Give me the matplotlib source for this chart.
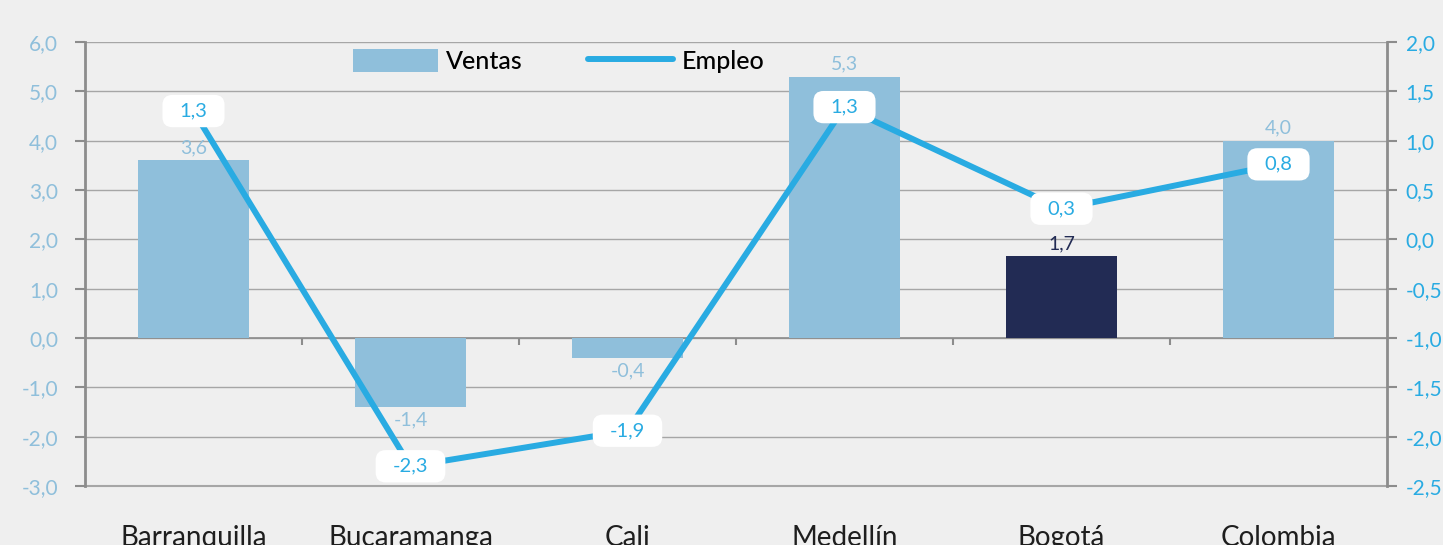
import matplotlib
matplotlib.use("Agg")
import matplotlib.pyplot as plt
from matplotlib.patches import BoxStyle
import numpy as np

categories = ["Barranquilla", "Bucaramanga", "Cali", "Medellín", "Bogotá", "Colombia"]
ventas = [3.6, -1.4, -0.4, 5.3, 1.66, 4.0]
empleo = [1.3, -2.3, -1.94, 1.34, 0.31, 0.76]
left_ticks = [-3, -2, -1, 0, 1, 2, 3, 4, 5, 6]
right_ticks = [-2.5, -2.0, -1.5, -1.0, -0.5, 0.0, 0.5, 1.0, 1.5, 2.0]

plt.rcParams['font.family'] = ['Lato', 'DejaVu Sans']

BG = "#efefef"
BAR = "#8fbfdb"
HIGHLIGHT = "#222b54"
LINE = "#29abe2"
GRID = "#a6a6a6"
AXIS = "#8c8c8c"


def fmt(v):
    return f"{v:.1f}".replace(".", ",")


def label_box(x0, y0, width, height, mutation_size):
    # rounded white box with wider horizontal padding
    px = mutation_size * 0.85
    py = mutation_size * 0.38
    return BoxStyle.Round(pad=0, rounding_size=0.5)(
        x0 - px, y0 - py, width + 2 * px, height + 2 * py, mutation_size)


fig = plt.figure(figsize=(14.43, 5.45), dpi=100, facecolor=BG)
ax = fig.add_axes([85/1443, 1-486/545, (1387-85)/1443, (486-42)/545])
ax.set_facecolor(BG)

x = np.arange(len(categories))
colors = [HIGHLIGHT if c == "Bogotá" else BAR for c in categories]
bars = ax.bar(x, ventas, width=0.51, color=colors, zorder=2, label="Ventas")

ax.set_ylim(-3, 6)
ax.set_xlim(-0.5, len(categories) - 0.5)
ax.set_yticks(left_ticks)
ax.set_yticklabels([fmt(t) for t in left_ticks], color=BAR, fontsize=15)
ax.yaxis.grid(True, color=GRID, linewidth=1.0, zorder=0)
ax.set_axisbelow(True)
ax.tick_params(axis='y', length=7.5, width=1.5, color=AXIS, pad=12)
ax.axhline(-3, color=GRID, linewidth=1.5, clip_on=False, zorder=0)

for s in ["top", "bottom"]:
    ax.spines[s].set_visible(False)
ax.spines["left"].set_color(AXIS)
ax.spines["left"].set_linewidth(2)
ax.spines["right"].set_visible(False)

# category labels below plot
ax.set_xticks(x)
ax.set_xticklabels(categories, fontsize=20, color="#1e1e1e")
ax.tick_params(axis='x', length=0, pad=28)

# zero line and category boundary ticks
ax.axhline(0, color=AXIS, linewidth=1.2, zorder=1)
bounds = np.arange(len(categories) - 1) + 0.5
ax.vlines(bounds, -0.15, 0, color=AXIS, linewidth=1.5, zorder=1)

# bar labels
for xi, v, c in zip(x, ventas, categories):
    col = HIGHLIGHT if c == "Bogotá" else BAR
    if v >= 0:
        ax.annotate(fmt(v), (xi, v), xytext=(0, 3), textcoords="offset points",
                    ha="center", va="bottom", color=col, fontsize=14, zorder=3)
    else:
        ax.annotate(fmt(v), (xi, v), xytext=(0, -3), textcoords="offset points",
                    ha="center", va="top", color=col, fontsize=14, zorder=3)

# secondary axis
ax2 = ax.twinx()
ax2.set_ylim(-2.5, 2.0)
ax2.set_yticks(right_ticks)
ax2.set_yticklabels([fmt(t) for t in right_ticks], color=LINE, fontsize=15)
ax2.tick_params(axis='y', length=7.5, width=1.5, color=AXIS, pad=6)
for s in ["top", "bottom", "left"]:
    ax2.spines[s].set_visible(False)
ax2.spines["right"].set_color(AXIS)
ax2.spines["right"].set_linewidth(2)

line, = ax2.plot(x, empleo, color=LINE, linewidth=4.3, solid_capstyle="round", zorder=4, label="Empleo")
for xi, v in zip(x, empleo):
    ax2.text(xi, v, fmt(v), ha="center", va="center",
             color=LINE, fontsize=14.5, zorder=5,
             bbox=dict(boxstyle=label_box, facecolor="white", edgecolor="none"))

leg = ax.legend([bars, line], ["Ventas", "Empleo"], loc="center",
                bbox_to_anchor=(0.3637, 0.957), ncol=2, frameon=False, fontsize=18,
                handlelength=3.4, handleheight=1.05, columnspacing=2.6, handletextpad=0.35)
for t in leg.get_texts():
    t.set_color("black")
    t.set_fontweight("medium")
leg.set_zorder(10)

fig.savefig("out.png", dpi=100, facecolor=BG)
